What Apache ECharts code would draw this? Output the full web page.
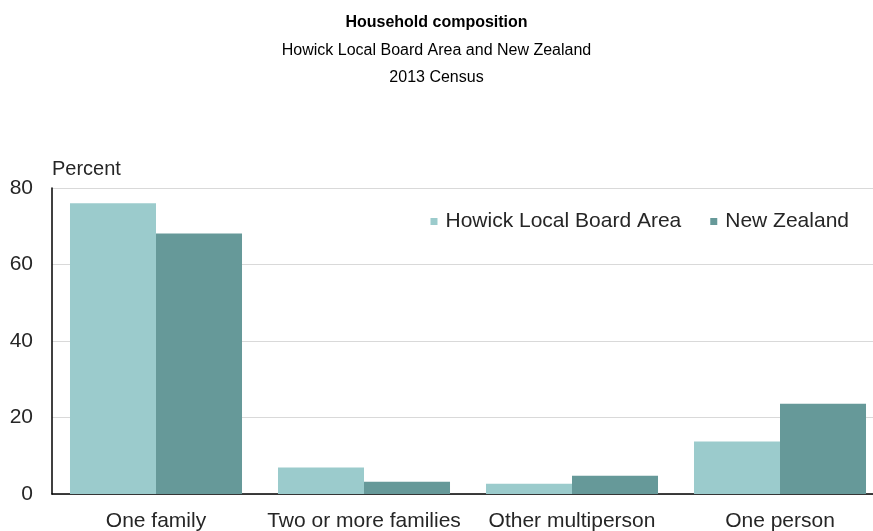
<!DOCTYPE html>
<html><head><meta charset="utf-8">
<script src="https://cdn.jsdelivr.net/npm/echarts@6/dist/echarts.min.js"></script>
<style>html,body{margin:0;padding:0;background:#fff}#c{width:873px;height:531px}</style>
</head><body><div id="c"></div>
<script>
const categories = ["One family", "Two or more families", "Other multiperson", "One person"];
const howick = [76.0, 6.9, 2.7, 13.7];
const newZealand = [68.1, 3.2, 4.8, 23.6];
const seriesNames = ["Howick Local Board Area", "New Zealand"];
const yTicks = [0, 20, 40, 60, 80];

const chart = echarts.init(document.getElementById('c'));
const F = 'Liberation Sans, Arial, sans-serif';
const TC = '#262626';
chart.setOption({
  animation: false,
  title: [
    {text: 'Household composition', left: 'center', top: 10, textStyle: {fontFamily: F, fontSize: 16, fontWeight: 'bold', color: '#000'}},
    {text: 'Howick Local Board Area and New Zealand', left: 'center', top: 38, textStyle: {fontFamily: F, fontSize: 16, fontWeight: 'normal', color: '#000'}},
    {text: '2013 Census', left: 'center', top: 65, textStyle: {fontFamily: F, fontSize: 16, fontWeight: 'normal', color: '#000'}},
    {text: 'Percent', left: 47, top: 154, textStyle: {fontFamily: F, fontSize: 20, fontWeight: 'normal', color: TC}}
  ],
  legend: {
    data: seriesNames, top: 206, right: 19, itemWidth: 7, itemHeight: 7, itemGap: 29,
    icon: 'rect',
    textStyle: {fontFamily: F, fontSize: 21, color: TC, padding: [0, 0, 0, 3]}
  },
  grid: {left: 52, top: 188, width: 832, height: 306, containLabel: false, outerBoundsMode: 'none'},
  xAxis: {
    type: 'category', data: categories,
    axisLine: {lineStyle: {color: '#000', width: 1.5}},
    axisTick: {show: false},
    axisLabel: {fontFamily: F, fontSize: 21, color: TC, margin: 17, interval: 0, hideOverlap: false}
  },
  yAxis: {
    type: 'value', min: 0, max: 80, interval: 20,
    axisLine: {show: true, lineStyle: {color: '#000', width: 1.5}},
    axisTick: {show: false},
    splitLine: {lineStyle: {color: '#d9d9d9', width: 1}},
    axisLabel: {fontFamily: F, fontSize: 21, color: TC, margin: 19,
      formatter: v => yTicks.includes(v) ? String(v) : ''}
  },
  series: [
    {name: seriesNames[0], type: 'bar', data: howick, barGap: '0%', barCategoryGap: '17.3%', itemStyle: {color: '#9bcbcc'}},
    {name: seriesNames[1], type: 'bar', data: newZealand, barGap: '0%', barCategoryGap: '17.3%', itemStyle: {color: '#669999'}}
  ]
});
</script></body></html>
